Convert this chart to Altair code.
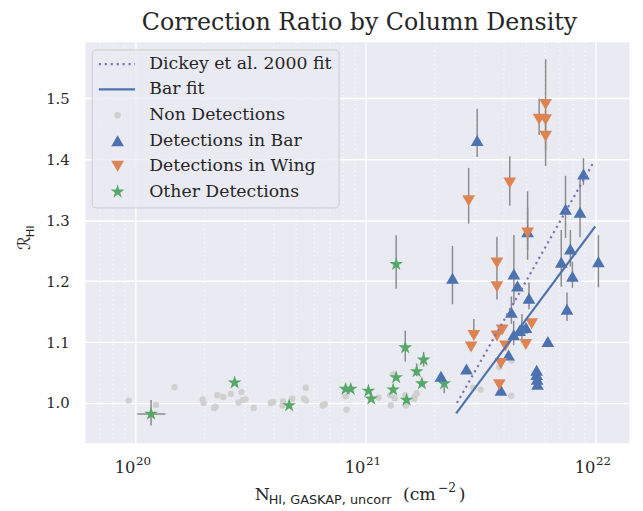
import altair as alt
import pandas as pd

# ---------------- data ----------------
# Non detections
nondet_N = [9.35e19, 1.48e20, 1.23e20, 1.96e20, 1.98e20, 2.20e20, 2.23e20, 2.27e20, 2.41e20,
            2.60e20, 2.89e20, 2.81e20, 2.94e20, 3.01e20, 3.27e20, 3.88e20, 3.98e20, 4.39e20,
            4.36e20, 4.81e20, 5.50e20, 5.41e20, 5.52e20, 6.52e20, 6.65e20, 8.20e20, 8.28e20,
            1.14e21, 1.29e21, 1.34e21, 1.28e21, 1.32e21, 1.50e21, 1.49e21, 1.64e21, 1.67e21,
            1.63e21, 2.94e21, 3.17e21, 3.82e21, 4.31e21, 4.31e21]
nondet_R = [1.004, 1.026, 0.997, 1.006, 1.000, 0.992, 0.994, 1.013, 1.010,
            1.015, 1.018, 1.001, 1.005, 1.006, 0.992, 1.000, 1.002, 1.003,
            0.996, 1.007, 1.025, 1.007, 1.004, 0.996, 0.998, 1.011, 0.989,
            1.009, 0.996, 1.008, 1.013, 1.047, 0.996, 1.013, 1.011, 1.016,
            1.007, 1.025, 1.022, 1.059, 1.070, 1.012]

# Other detections (green stars)
other_N = [1.17e20, 2.70e20, 4.66e20, 8.20e20, 8.63e20, 1.03e21, 1.06e21, 1.32e21, 1.36e21,
           1.36e21, 1.49e21, 1.51e21, 1.67e21, 1.76e21, 1.79e21, 2.20e21]
other_R = [0.982, 1.0335, 0.996, 1.023, 1.023, 1.020, 1.007, 1.022, 1.042,
           1.228, 1.091, 1.005, 1.052, 1.032, 1.071, 1.032]
other_lo = [0.963, None, None, None, None, None, None, None, None,
            1.1875, 1.068, None, 1.044, None, 1.060, 1.016]
other_hi = [1.005, None, None, None, None, None, None, None, None,
            1.2755, 1.119, None, 1.065, None, 1.084, 1.040]
other_xlo = [1.02e20] + [None] * 15
other_xhi = [1.35e20] + [None] * 15

# Detections in bar (blue up-triangles)
bar_N = [2.13e21, 2.39e21, 2.75e21, 3.06e21, 3.88e21, 4.19e21, 4.31e21, 4.41e21, 4.42e21,
         4.58e21, 4.68e21, 4.79e21, 4.99e21, 5.07e21, 5.14e21, 5.55e21, 5.55e21, 5.58e21,
         5.60e21, 6.21e21, 7.10e21, 7.41e21, 7.52e21, 7.78e21, 7.94e21, 8.57e21, 8.87e21,
         1.03e22]
bar_R = [1.044, 1.205, 1.056, 1.431, 1.021, 1.079, 1.149, 1.112, 1.212,
         1.192, 1.119, 1.123, 1.124, 1.281, 1.172, 1.054, 1.047, 1.039,
         1.031, 1.101, 1.231, 1.318, 1.154, 1.253, 1.208, 1.313, 1.376,
         1.232]
bar_lo = [None, 1.162, None, 1.404, None, None, 1.130, 1.095, 1.162,
          None, None, 1.100, None, 1.251, 1.154, None, None, None,
          None, None, 1.191, 1.271, 1.1345, 1.224, 1.189, 1.272, 1.358,
          1.190]
bar_hi = [None, 1.258, None, 1.483, None, None, 1.175, 1.135, 1.276,
          None, None, 1.146, None, 1.321, 1.198, None, None, None,
          None, None, 1.284, 1.373, 1.1815, 1.284, 1.232, 1.3695, 1.402,
          1.2755]

# Detections in wing (orange down-triangles)
wing_N = [2.81e21, 2.88e21, 2.96e21, 3.73e21, 3.73e21, 3.73e21, 3.82e21, 3.88e21, 3.93e21,
          4.06e21, 4.24e21, 4.98e21, 5.07e21, 5.28e21, 5.69e21, 6.07e21, 6.07e21, 6.07e21]
wing_R = [1.332, 1.092, 1.111, 1.230, 1.191, 1.110, 1.030, 1.065, 1.120,
          1.0935, 1.361, 1.096, 1.279, 1.130, 1.466, 1.490, 1.465, 1.438]
wing_lo = [1.2945, None, 1.105, 1.170, None, None, None, None, None,
           None, 1.324, None, 1.235, None, 1.440, 1.415, None, 1.389]
wing_hi = [1.386, None, 1.138, 1.273, None, None, None, None, None,
           None, 1.405, None, 1.3475, None, 1.4997, 1.5645, None, 1.480]

# Fits
dickey_N = [2.50e21, 9.80e21]
dickey_R = [1.000, 1.395]
barfit_N = [2.48e21, 9.98e21]
barfit_R = [0.983, 1.290]

# Axes
x_ticks = [1e20, 1e21, 1e22]
x_tick_base = ["10", "10", "10"]
x_tick_exp = ["20", "21", "22"]
x_minor = [7e19, 8e19, 9e19,
           2e20, 3e20, 4e20, 5e20, 6e20, 7e20, 8e20, 9e20,
           2e21, 3e21, 4e21, 5e21, 6e21, 7e21, 8e21, 9e21]
y_ticks = [1.0, 1.1, 1.2, 1.3, 1.4, 1.5]
x_domain = [6.04e19, 1.40e22]
y_domain = [0.935, 1.593]

title_text = "Correction Ratio by Column Density"
legend_labels = ["Dickey et al. 2000 fit", "Bar fit", "Non Detections",
                 "Detections in Bar", "Detections in Wing", "Other Detections"]

# ---------------- styling ----------------
BG = "#EAEAF2"
TXT = "#262626"
SERIF = "DejaVu Serif"
C_GRAY = "#d0d0d0"
C_BLUE = "#4C72B0"
C_ORANGE = "#DD8452"
C_GREEN = "#55A868"
C_PURPLE = "#8172B3"
C_ERR = "#8c8c8c"
STAR = ("M0,-1L0.2245,-0.309L0.951,-0.309L0.363,0.118L0.588,0.809L0,0.382"
        "L-0.588,0.809L-0.363,0.118L-0.951,-0.309L-0.2245,-0.309Z")
S_TRI = 165
S_STAR = 215
S_CIRC = 42

W, H = 551, 406

xscale = alt.Scale(type="log", domain=x_domain, nice=False)
yscale = alt.Scale(domain=y_domain, nice=False, zero=False)

x_axis = alt.Axis(values=x_ticks, labels=False, title=None, grid=True, gridColor="white",
                  gridWidth=1.4, ticks=False, domain=False)
y_axis = alt.Axis(values=y_ticks, format=".1f", title=None, grid=True, gridColor="white",
                  gridWidth=1.4, ticks=False, domain=False, labelFont=SERIF, labelFontSize=15,
                  labelColor=TXT, labelPadding=16)


def X(field):
    return alt.X(field, type="quantitative", scale=xscale, axis=x_axis)


def Y(field):
    return alt.Y(field, type="quantitative", scale=yscale, axis=y_axis)


# minor grid
minor = alt.Chart(pd.DataFrame({"N": x_minor})).mark_rule(
    color="white", strokeWidth=1.0, strokeDash=[1.5, 3], opacity=0.9
).encode(x=X("N"))

# x tick labels: 10 with superscript exponent
tick_df = pd.DataFrame({"N": x_ticks, "base": x_tick_base, "exp": x_tick_exp})
tick_base = alt.Chart(tick_df).mark_text(
    align="right", baseline="alphabetic", font=SERIF, fontSize=16.5, color=TXT, dx=0
).encode(x=X("N"), y=alt.value(H + 31), text="base:N")
tick_exp = alt.Chart(tick_df).mark_text(
    align="left", baseline="alphabetic", font=SERIF, fontSize=12, color=TXT, dx=0.5
).encode(x=X("N"), y=alt.value(H + 23), text="exp:N")

# error bars
def err_frame(N, lo, hi):
    rows = [(n, l, h) for n, l, h in zip(N, lo, hi) if l is not None]
    return pd.DataFrame(rows, columns=["N", "lo", "hi"])

err_df = pd.concat([err_frame(other_N, other_lo, other_hi),
                    err_frame(bar_N, bar_lo, bar_hi),
                    err_frame(wing_N, wing_lo, wing_hi)], ignore_index=True)
xerr_df = pd.DataFrame([(r, a, b) for r, a, b in zip(other_R, other_xlo, other_xhi) if a is not None],
                       columns=["R", "xlo", "xhi"])

verr = alt.Chart(err_df).mark_rule(color=C_ERR, strokeWidth=1.5).encode(
    x=X("N"), y=Y("lo"), y2="hi")
herr = alt.Chart(xerr_df).mark_rule(color=C_ERR, strokeWidth=1.5).encode(
    x=X("xlo"), x2="xhi", y=Y("R"))

gray = alt.Chart(pd.DataFrame({"N": nondet_N, "R": nondet_R})).mark_point(
    shape="circle", filled=True, size=S_CIRC, color=C_GRAY, opacity=1
).encode(x=X("N"), y=Y("R"))

green = alt.Chart(pd.DataFrame({"N": other_N, "R": other_R})).mark_point(
    shape=STAR, filled=True, size=S_STAR, color=C_GREEN, opacity=1
).encode(x=X("N"), y=Y("R"))

blue = alt.Chart(pd.DataFrame({"N": bar_N, "R": bar_R})).mark_point(
    shape="triangle-up", filled=True, size=S_TRI, color=C_BLUE, opacity=1
).encode(x=X("N"), y=Y("R"))

orange = alt.Chart(pd.DataFrame({"N": wing_N, "R": wing_R})).mark_point(
    shape="triangle-down", filled=True, size=S_TRI, color=C_ORANGE, opacity=1
).encode(x=X("N"), y=Y("R"))

dickey = alt.Chart(pd.DataFrame({"N": dickey_N, "R": dickey_R})).mark_line(
    color=C_PURPLE, strokeWidth=2.2, strokeDash=[2.2, 3.8]
).encode(x=X("N"), y=Y("R"))

barfit = alt.Chart(pd.DataFrame({"N": barfit_N, "R": barfit_R})).mark_line(
    color=C_BLUE, strokeWidth=2.2
).encode(x=X("N"), y=Y("R"))

# ---------------- legend (drawn by hand) ----------------
dummy = pd.DataFrame({"k": [0]})
leg_rows = [22.7, 48.3, 74.3, 100.3, 126.0, 152.0]
LX_SYM, LX_L0, LX_L1, LX_TXT = 33, 14, 50.7, 65

legend_layers = [
    alt.Chart(dummy).mark_rect(fill=BG, fillOpacity=0.8, stroke="#cccccc", strokeWidth=1,
                               cornerRadius=4).encode(
        x=alt.value(7.3), x2=alt.value(257.3), y=alt.value(8.3), y2=alt.value(168.3)),
    alt.Chart(dummy).mark_rule(color=C_PURPLE, strokeWidth=2.2, strokeDash=[2.2, 3.8]).encode(
        x=alt.value(LX_L0), x2=alt.value(LX_L1), y=alt.value(leg_rows[0])),
    alt.Chart(dummy).mark_rule(color=C_BLUE, strokeWidth=2.2).encode(
        x=alt.value(LX_L0), x2=alt.value(LX_L1), y=alt.value(leg_rows[1])),
    alt.Chart(dummy).mark_point(shape="circle", filled=True, size=S_CIRC, color=C_GRAY, opacity=1).encode(
        x=alt.value(LX_SYM), y=alt.value(leg_rows[2])),
    alt.Chart(dummy).mark_point(shape="triangle-up", filled=True, size=S_TRI, color=C_BLUE, opacity=1).encode(
        x=alt.value(LX_SYM), y=alt.value(leg_rows[3])),
    alt.Chart(dummy).mark_point(shape="triangle-down", filled=True, size=S_TRI, color=C_ORANGE, opacity=1).encode(
        x=alt.value(LX_SYM), y=alt.value(leg_rows[4])),
    alt.Chart(dummy).mark_point(shape=STAR, filled=True, size=S_STAR, color=C_GREEN, opacity=1).encode(
        x=alt.value(LX_SYM), y=alt.value(leg_rows[5])),
]
for lab, yy in zip(legend_labels, leg_rows):
    legend_layers.append(
        alt.Chart(dummy).mark_text(text=lab, font=SERIF, fontSize=17.5, align="left",
                                   baseline="middle", color=TXT).encode(
            x=alt.value(LX_TXT), y=alt.value(yy)))


def txt(text, x, y, size, font=SERIF, angle=0, align="left"):
    return alt.Chart(dummy).mark_text(text=text, font=font, fontSize=size, angle=angle,
                                      align=align, baseline="alphabetic", color=TXT).encode(
        x=alt.value(x), y=alt.value(y))


# title and axis titles (main text + subscript/superscript pieces)
texts = [
    txt(title_text, 278, -12, 24, align="center"),
    txt("N", 172, 464, 17.5),
    txt("HI, GASKAP, uncorr", 186, 468, 13, font="DejaVu Sans"),
    txt("(cm", 322, 464, 17.5),
    txt("\u22122", 357.5, 456, 12.5),
    txt(")", 378.5, 464, 17.5),
    txt("\u211b", -56, 211, 17.5, font="DejaVu Sans", angle=270),
    txt("HI", -52, 198, 11.5, font="DejaVu Sans", angle=270),
]

chart = alt.layer(
    minor, verr, herr, gray, green, blue, orange, dickey, barfit,
    tick_base, tick_exp, *legend_layers, *texts
).properties(
    width=W, height=H,
    autosize=alt.AutoSizeParams(type="none"),
    padding={"left": 78, "top": 31, "right": 6, "bottom": 64},
).configure_view(fill=BG, stroke="transparent")

chart.save("out.html", embed_options={"renderer": "svg", "actions": False})
